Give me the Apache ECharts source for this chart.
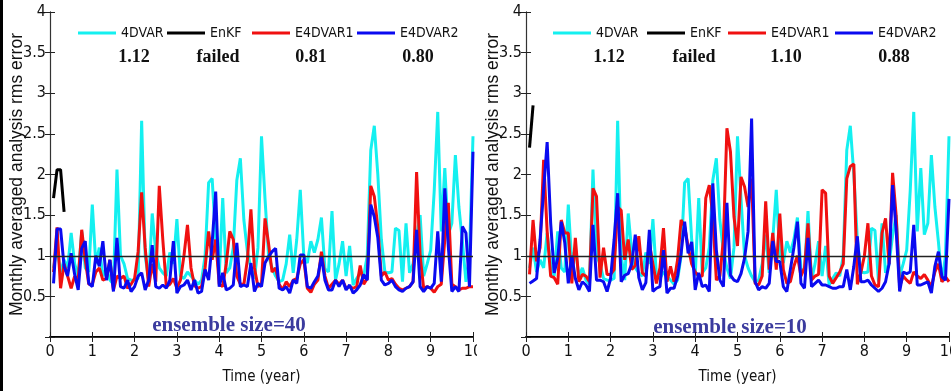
<!DOCTYPE html>
<html><head><meta charset="utf-8">
<script src="https://cdn.jsdelivr.net/npm/echarts@6/dist/echarts.min.js"></script>
<style>
html,body{margin:0;padding:0;background:#fff;}
#wrap{position:relative;width:951px;height:391px;overflow:hidden;background:#fff;}
#left{position:absolute;left:0;top:0;width:477px;height:391px;overflow:hidden;}
#right{position:absolute;left:477px;top:0;width:474px;height:391px;overflow:hidden;}
#bar{position:absolute;left:0;top:0;width:3px;height:391px;background:#000;}
</style></head>
<body><div id="wrap"><div id="left"></div><div id="right"></div><div id="bar"></div></div>
<script>
// ---------- data ----------
const xTicks = [0,1,2,3,4,5,6,7,8,9,10];
const yTicks = [0.5,1,1.5,2,2.5,3,3.5,4];
const seriesNames = ['4DVAR','EnKF','E4DVAR1','E4DVAR2'];
const scoresLeft = ['1.12','failed','0.81','0.80'];
const scoresRight = ['1.12','failed','1.10','0.88'];
const ensembleLeft = 'ensemble size=40';
const ensembleRight = 'ensemble size=10';

// monthly values, month 1..120 (time = month/12 years)
const dvar4 = [0.85,1.1,0.8,0.95,0.85,1.28,0.9,0.75,1.3,0.85,
 0.8,1.63,0.9,1.1,0.75,0.85,0.7,0.65,2.06,1.0,
 0.9,0.72,0.7,0.7,0.72,2.66,1.0,0.7,1.52,1.05,
 0.85,0.79,0.75,1.04,0.9,1.45,0.75,0.72,0.8,0.75,
 0.7,0.65,0.7,1.0,1.9,1.95,1.2,0.75,1.71,0.79,
 0.85,1.1,1.93,2.2,1.44,1.05,0.85,0.72,1.1,2.47,
 1.7,1.0,0.85,0.75,0.68,0.7,0.9,1.26,0.79,1.2,
 1.81,1.0,0.91,1.18,1.04,1.2,1.47,0.84,0.8,1.55,
 0.7,0.9,1.18,0.75,1.12,0.64,0.72,0.79,0.75,1.0,
 2.3,2.6,2.0,1.2,0.8,0.79,0.8,1.34,1.31,0.68,
 1.4,0.79,0.9,1.25,1.5,0.75,0.9,1.07,1.8,2.77,
 1.3,2.08,1.26,1.4,2.24,1.6,1.17,0.68,1.0,2.47];

const enkfLeft = [1.71,2.06,2.06,1.54];
const enkfRight = [2.33,2.85];

const e4dvar1Left = [0.8,1.35,0.6,0.9,0.75,0.6,0.75,0.7,1.32,0.95,
 0.65,0.65,0.8,0.85,0.7,0.72,0.95,0.58,0.75,0.72,
 0.75,0.6,0.65,0.72,1.05,1.78,1.1,0.62,0.9,0.68,
 1.86,1.2,0.62,0.65,0.72,0.6,0.7,1.0,1.38,0.85,
 0.63,0.6,0.62,0.85,1.3,0.95,1.2,0.65,0.62,0.9,
 1.3,1.2,0.75,0.65,0.65,0.95,1.57,0.85,0.62,0.65,
 1.46,1.15,0.8,0.85,0.65,0.58,0.68,0.62,0.7,0.72,
 0.9,0.95,0.6,0.55,0.65,0.7,1.05,0.75,0.6,0.65,
 0.7,0.65,0.7,0.6,0.62,0.6,0.62,0.88,0.65,0.72,
 1.86,1.73,1.35,0.75,0.8,0.7,0.72,0.65,0.6,0.58,
 0.6,0.62,0.68,2.03,1.0,0.6,0.62,0.6,0.55,0.62,
 0.65,1.2,1.65,0.65,0.62,0.58,0.6,0.6,0.62,0.62];

const e4dvar2Left = [0.66,1.33,1.33,0.87,0.75,1.03,0.77,0.58,1.09,1.18,
 0.66,0.62,1.0,0.87,1.18,0.7,0.95,0.56,1.22,0.62,
 0.6,0.7,0.56,0.62,0.75,0.79,0.58,0.7,1.13,0.62,
 0.6,0.64,0.6,0.7,1.18,0.54,0.62,0.64,0.7,0.58,
 0.7,0.54,0.56,0.83,0.7,1.16,1.79,0.62,0.79,0.58,
 0.6,0.64,1.16,0.62,0.64,0.62,0.91,0.56,0.66,0.62,
 0.91,0.99,1.05,1.09,0.6,0.58,0.62,0.54,0.7,0.66,
 1.01,1.01,0.62,0.6,0.68,0.75,0.99,0.7,0.58,0.58,
 0.7,0.62,0.7,0.58,0.64,0.54,0.58,0.64,0.77,0.7,
 1.63,1.48,1.22,0.7,0.64,0.66,0.7,0.62,0.58,0.56,
 0.6,0.62,0.68,1.32,0.62,0.56,0.62,0.6,0.66,1.3,
 0.68,1.83,1.11,0.56,0.62,0.56,1.36,1.28,0.62,2.28];

const e4dvar1Right = [0.77,1.44,0.93,1.1,2.18,1.3,0.75,0.73,0.65,1.44,
 1.28,1.28,0.66,1.22,0.68,0.77,0.75,0.68,1.83,1.73,
 0.73,1.1,0.77,0.77,0.83,1.6,1.56,0.95,1.2,0.83,
 0.88,1.24,0.79,0.75,1.15,0.9,0.66,0.85,1.34,0.68,
 0.87,0.68,0.95,1.44,1.36,1.11,0.9,0.8,0.75,0.75,
 1.71,1.87,1.49,0.7,0.75,1.2,2.57,2.28,1.48,1.12,
 1.97,1.85,1.6,1.95,0.66,0.64,0.75,1.67,0.83,1.28,
 0.83,1.52,0.83,0.66,0.68,0.87,1.0,0.75,0.85,1.4,
 0.7,0.75,0.77,1.81,1.77,0.75,0.66,0.73,0.8,0.9,
 1.95,2.1,2.13,0.65,0.79,1.0,1.4,0.75,0.64,0.62,
 1.28,1.46,0.9,2.02,1.5,0.62,0.75,0.7,0.66,0.8,
 0.75,0.72,0.77,0.7,0.62,0.8,0.9,0.68,0.74,0.68];

const e4dvar2Right = [0.66,0.69,0.72,1.2,1.81,2.4,1.4,0.79,0.97,1.42,
 1.16,0.66,1.0,0.72,0.58,0.68,0.64,0.56,1.38,0.7,
 0.7,0.68,0.56,0.72,1.2,1.77,0.68,0.76,0.78,0.9,
 1.26,0.73,0.58,0.67,1.32,0.56,0.6,0.62,1.07,0.54,
 0.6,0.6,0.75,1.03,1.42,1.03,1.17,0.58,0.79,0.62,
 0.64,0.56,1.89,1.07,0.7,0.62,1.65,0.76,0.7,0.68,
 0.78,0.97,1.3,2.69,0.68,0.58,0.62,0.6,0.66,1.18,
 0.93,0.93,0.62,0.56,0.83,1.1,1.42,0.66,0.6,1.22,
 0.62,0.66,0.7,0.64,0.64,0.62,0.6,0.6,0.62,0.62,
 0.83,0.58,0.87,1.24,0.68,0.68,0.7,0.64,0.6,0.56,
 0.6,0.68,0.9,1.87,1.32,0.56,0.8,0.78,0.8,1.38,
 0.64,0.64,0.66,0.68,0.54,0.87,1.05,0.74,0.7,1.7];

const refLine = 1;

// ---------- helpers ----------
const months = dvar4.map((_, k) => (k + 1) / 12);
const toPairs = vals => vals.map((v, k) => [months[k], v]);
const NARROW = "'Liberation Sans Narrow','DejaVu Sans Condensed','Arial Narrow',sans-serif";
const SANS = "'Liberation Sans',Arial,sans-serif";
const SERIF = "'Liberation Serif','Times New Roman',serif";
const colors = ['#14f0f0', '#000000', '#f01010', '#0a0af0'];

function makeOption(cfg) {
  const legends = seriesNames.map((n, k) => ({
    data: [n], left: cfg.legendX[k], top: 21, itemWidth: 38, itemHeight: 14, itemGap: 0, itemTextGap: 3,
    icon: 'path://M0,5.5 L38,5.5 L38,8.5 L0,8.5 Z',
    textStyle: { fontFamily: NARROW, fontSize: 14, color: '#111' },
    selectedMode: false
  }));
  const graphics = cfg.scores.map((s, k) => ({
    type: 'text', x: cfg.scoreX[k], y: 57,
    style: { text: s, font: 'bold 18px ' + SERIF, fill: '#111', textAlign: 'center', textVerticalAlign: 'middle' }
  }));
  graphics.push({
    type: 'text', x: cfg.ensX, y: cfg.ensY,
    style: { text: cfg.ens, font: 'bold 21px ' + SERIF, fill: '#3b3b9e', textAlign: 'center', textVerticalAlign: 'middle' }
  });
  const tickStyle = { show: true, inside: true, length: 5, lineStyle: { color: '#222', width: 1 } };
  return {
    animation: false,
    backgroundColor: '#fff',
    grid: { left: cfg.gridLeft, right: cfg.gridRight, top: 12, bottom: 54, containLabel: false, outerBoundsMode: 'none' },
    legend: legends,
    graphic: graphics,
    xAxis: [{
      type: 'value', min: 0, max: 10, interval: 1, position: 'bottom',
      name: 'Time (year)', nameLocation: 'middle', nameGap: 33, nameMoveOverlap: false,
      nameTextStyle: { fontFamily: NARROW, fontSize: 15, color: '#111' },
      axisLine: { lineStyle: { color: '#000', width: 2 } },
      axisTick: tickStyle,
      axisLabel: { fontFamily: NARROW, fontSize: 16, color: '#111', margin: 7 },
      splitLine: { show: false }
    }, {
      type: 'value', min: 0, max: 10, interval: 1, position: 'top',
      axisLine: { lineStyle: { color: '#333', width: 1 } },
      axisTick: tickStyle, axisLabel: { show: false }, splitLine: { show: false }
    }],
    yAxis: [{
      type: 'value', min: 0, max: 4, interval: 0.5, position: 'left',
      name: 'Monthly averaged analysis rms error', nameLocation: 'middle', nameGap: 24, nameMoveOverlap: false,
      nameTextStyle: { fontFamily: SANS, fontSize: 17.5, color: '#111' },
      axisLine: { lineStyle: { color: '#333', width: 1.2 } },
      axisTick: tickStyle,
      axisLabel: { fontFamily: NARROW, fontSize: 16, color: '#111', margin: 4,
        formatter: v => (yTicks.indexOf(v) >= 0 ? String(v) : '') },
      splitLine: { show: false }
    }, {
      type: 'value', min: 0, max: 4, interval: 0.5, position: 'right',
      axisLine: { lineStyle: { color: '#333', width: 1 } },
      axisTick: tickStyle, axisLabel: { show: false }, splitLine: { show: false }
    }],
    series: [
      { name: seriesNames[0], type: 'line', data: toPairs(dvar4), symbol: 'none',
        lineStyle: { color: colors[0], width: 3 }, itemStyle: { color: colors[0] } },
      { name: seriesNames[1], type: 'line', data: toPairs(cfg.enkf), symbol: 'none',
        lineStyle: { color: colors[1], width: 3 }, itemStyle: { color: colors[1] },
        markLine: { silent: true, symbol: ['none', 'none'], label: { show: false },
          lineStyle: { color: '#222', width: 1.3, type: 'solid' }, data: [{ yAxis: refLine }] } },
      { name: seriesNames[2], type: 'line', data: toPairs(cfg.e1), symbol: 'none',
        lineStyle: { color: colors[2], width: 3 }, itemStyle: { color: colors[2] } },
      { name: seriesNames[3], type: 'line', data: toPairs(cfg.e2), symbol: 'none',
        lineStyle: { color: colors[3], width: 3 }, itemStyle: { color: colors[3] } }
    ]
  };
}

const left = echarts.init(document.getElementById('left'), null, { renderer: 'canvas', width: 477, height: 391 });
left.setOption(makeOption({
  gridLeft: 50, gridRight: 4, enkf: enkfLeft, e1: e4dvar1Left, e2: e4dvar2Left,
  legendX: [73, 162, 247, 352], scores: scoresLeft, scoreX: [134, 218, 311, 418],
  ens: ensembleLeft, ensX: 229, ensY: 326
}));
const right = echarts.init(document.getElementById('right'), null, { renderer: 'canvas', width: 474, height: 391 });
right.setOption(makeOption({
  gridLeft: 49, gridRight: 2, enkf: enkfRight, e1: e4dvar1Right, e2: e4dvar2Right,
  legendX: [71, 165, 246, 353], scores: scoresRight, scoreX: [132, 217, 309, 417],
  ens: ensembleRight, ensX: 253, ensY: 328
}));
</script></body></html>
